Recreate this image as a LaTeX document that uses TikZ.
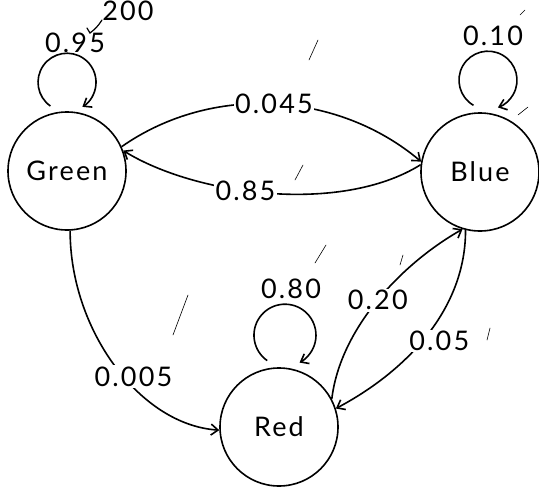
\documentclass[tikz,border=0pt]{standalone}
\usepackage{fontspec}
\setmainfont{Lato}[LetterSpace=8]
\usetikzlibrary{arrows.meta,calc}
\begin{document}
\begin{tikzpicture}[x=1pt,y=-1pt,
  state/.style={draw, circle, line width=1.6pt, minimum size=118pt, inner sep=0pt, font=\fontsize{27}{30}\selectfont},
  lbl/.style={fill=white, inner sep=1.5pt, font=\fontsize{27}{30}\selectfont},
  lblnf/.style={inner sep=1pt, font=\fontsize{27}{30}\selectfont},
  arr/.style={line width=1.6pt, -{Straight Barb[length=7pt,width=11pt,line width=1.6pt]}},
  noise/.style={line width=0.6pt, line cap=round}]
\fill[white] (0,0) rectangle (539,488);
\useasboundingbox (0,0) rectangle (539,488);

% states
\node[state] (green) at (67,171) {Green};
\node[state] (blue) at (480,172) {Blue};
\node[state] (red) at (279,427) {Red};

% transitions between states
\draw[arr] (green.24) .. controls (211.9,83.5) and (337.6,91.1) .. node[lbl,pos=0.5] (l045) {0.045} (blue.170);
\draw[arr] (blue.173) .. controls (340,215) and (195,195) .. node[lbl,pos=0.57] (l85) {0.85} (green.20);
\draw[arr] (green.-87) .. controls (70,330) and (140,425) .. node[lbl,pos=0.55,xshift=10pt] (l005) {0.005} (red.183);
\draw[arr] (red.28) .. controls (340.4,327.7) and (402.2,263.4) .. node[lbl,pos=0.5] (l20) {0.20} (blue.-107);
\draw[arr] (blue.-104) .. controls (465.7,309.2) and (406.6,371) .. node[lbl,pos=0.5,xshift=12pt,yshift=-6pt] (l05) {0.05} (red.18);

% self loops
\draw[arr] ($(green.north)+(-16.6,-5.2)$) arc[start angle=235, end angle=-58, radius=29pt];
\node[lblnf] (l95) at (75,43) {0.95};
\draw[arr] ($(blue.north)+(-6.5,-6.9)$) arc[start angle=240, end angle=-70, radius=29pt];
\node[lblnf] (l10) at (493,36) {0.10};
\draw[arr] ($(red.north)+(-11.8,-6.6)$) arc[start angle=235, end angle=-62, radius=31pt];
\node[lblnf] (l80) at (291,289) {0.80};

% annotation at the top
\node[lblnf] (t200) at (128,11) {200};
\coordinate (a1) at (102,20);
\coordinate (a2) at (90,33);
\coordinate (a3) at (87,28);
\draw[line width=1.2pt, line cap=round] (a1) to[bend left=10] (a2) -- (a3);

% stray pencil marks
\draw[noise] (318,40) -- (309,60);
\draw[noise] (303,165) -- (295,180);
\draw[noise] (188,295) -- (173,335);
\draw[noise] (326,245) -- (315,263);
\draw[noise] (403,255) -- (400,265);
\draw[noise] (490,328) -- (487,340);
\draw[noise] (525,10) -- (520,15);
\draw[noise] (528,107) -- (518,115);
\end{tikzpicture}
\end{document}
